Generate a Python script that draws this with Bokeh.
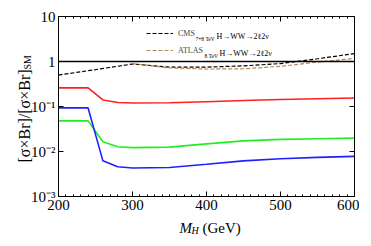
import math
from bokeh.plotting import figure
from bokeh.models import (LinearAxis, LogAxis, FixedTicker, Span, Label, Legend,
                          LegendItem, CustomJSTickFormatter)
from bokeh.embed import file_html
from bokeh.resources import INLINE

# ---------------- data ----------------
mass = [200, 220, 240, 260, 280, 300, 350, 400, 450, 500, 550, 600]
red = [0.26, 0.26, 0.26, 0.14, 0.123, 0.12, 0.121, 0.128, 0.136, 0.143, 0.149, 0.155]
green = [0.048, 0.048, 0.048, 0.0165, 0.0128, 0.0122, 0.0125, 0.0148, 0.0172, 0.0186, 0.0192, 0.0198]
blue = [0.093, 0.093, 0.093, 0.0062, 0.0046, 0.0043, 0.0044, 0.0052, 0.0062, 0.0069, 0.0074, 0.0078]

cms_mass = [200, 250, 300, 350, 400, 450, 500, 550, 600]
cms_limit = [0.5, 0.66, 0.88, 0.75, 0.75, 0.8, 0.9, 1.15, 1.5]
atlas_mass = [300, 350, 400, 450, 500, 550, 600]
atlas_limit = [0.9, 0.72, 0.68, 0.69, 0.78, 0.97, 1.17]

x_ticks = [200, 300, 400, 500, 600]
x_minor = [m for m in range(200, 601, 10) if m % 100 != 0]
y_ticks = [0.001, 0.01, 0.1, 1, 10]
y_tick_labels = ["10\u207b\u00b3", "10\u207b\u00b2", "10\u207b\u00b9", "1", "10"]

legend_names = ["CMS", "ATLAS"]
legend_subs = ["7+8 TeV", "8 TeV"]
legend_tail = "H\u2192WW\u21922\u21132\u03bd"

FONT = "Liberation Serif"
X0, Y0 = x_ticks[0], y_ticks[0]   # frame bottom-left anchor for text annotations

p = figure(width=355, height=230, frame_width=296, frame_height=180,
           x_range=(200, 600), y_range=(1e-3, 10), y_axis_type="log",
           output_backend="svg", toolbar_location=None,
           min_border_left=54, min_border_right=5, min_border_top=16, min_border_bottom=34)
p.grid.visible = False
p.outline_line_color = None
p.background_fill_color = "white"

def style_axis(ax, labels=True):
    ax.axis_line_color = "black"
    ax.axis_line_width = 1
    ax.major_tick_in = 5
    ax.major_tick_out = 0
    ax.minor_tick_in = 2
    ax.minor_tick_out = 0
    ax.major_tick_line_color = "black"
    ax.minor_tick_line_color = "black"
    ax.major_label_text_font = FONT
    ax.major_label_text_font_size = "15px"
    ax.major_label_text_color = "black"
    ax.major_label_standoff = 3
    if not labels:
        ax.formatter = CustomJSTickFormatter(code="return ''")

xa = p.xaxis[0]
xa.ticker = FixedTicker(ticks=x_ticks, minor_ticks=x_minor)
style_axis(xa)
ya = p.yaxis[0]
ya.ticker = FixedTicker(ticks=y_ticks, minor_ticks=[])
ya.major_label_overrides = dict(zip(y_ticks, y_tick_labels))
style_axis(ya)

top = LinearAxis(ticker=FixedTicker(ticks=x_ticks, minor_ticks=x_minor))
style_axis(top, labels=False)
p.add_layout(top, "above")
right = LogAxis(ticker=FixedTicker(ticks=y_ticks, minor_ticks=[]))
style_axis(right, labels=False)
p.add_layout(right, "right")

p.add_layout(Span(location=1, dimension="width", line_color="black", line_width=1.3))

p.line(mass, red, line_color="#ff2020", line_width=1.6)
p.line(mass, green, line_color="#22ee22", line_width=1.6)
p.line(mass, blue, line_color="#2020ff", line_width=1.6)
r_cms = p.line(cms_mass, cms_limit, line_color="black", line_width=1.2, line_dash="4 2")
r_atlas = p.line(atlas_mass, atlas_limit, line_color="#b5895a", line_width=1.2, line_dash="4 2")

leg = Legend(items=[LegendItem(label=legend_names[0], renderers=[r_cms]),
                    LegendItem(label=legend_names[1], renderers=[r_atlas])],
             location=(88, 141), glyph_width=27, glyph_height=10, label_height=10,
             label_standoff=5, spacing=7, padding=0, margin=0,
             border_line_color=None, background_fill_alpha=0,
             label_text_font=FONT, label_text_font_size="8px")
p.add_layout(leg, "center")

def note(text, dx, dy, size, place="center", style="normal", angle=0.0):
    lab = Label(x=X0, y=Y0, x_offset=dx, y_offset=dy, text=text, text_font=FONT,
                text_font_size=size, text_font_style=style, angle=angle,
                text_baseline="alphabetic", text_align="left", text_color="black")
    p.add_layout(lab, place)

# legend subscripts and tails (offsets from frame bottom-left)
name_w = [17, 26]
sub_w = [19, 13]
row_dy = [160, 143]
for i in range(2):
    xs = 120 + name_w[i]
    note(legend_subs[i], xs, row_dy[i] - 2, "5.5px")
    note(legend_tail, xs + sub_w[i] + 2, row_dy[i], "8px")

# y axis title
note("[\u03c3\u00d7Br]/[\u03c3\u00d7Br]", -34, 34, "16px", place="left", angle=math.pi / 2)
note("SM", -31, 127, "10px", place="left", angle=math.pi / 2)

# x axis title
note("M", 121, -31, "15px", place="below", style="italic")
note("H", 133, -34, "10px", place="below", style="italic")
note("(GeV)", 144, -31, "15px", place="below")

open("out.html", "w").write(file_html(p, INLINE))
